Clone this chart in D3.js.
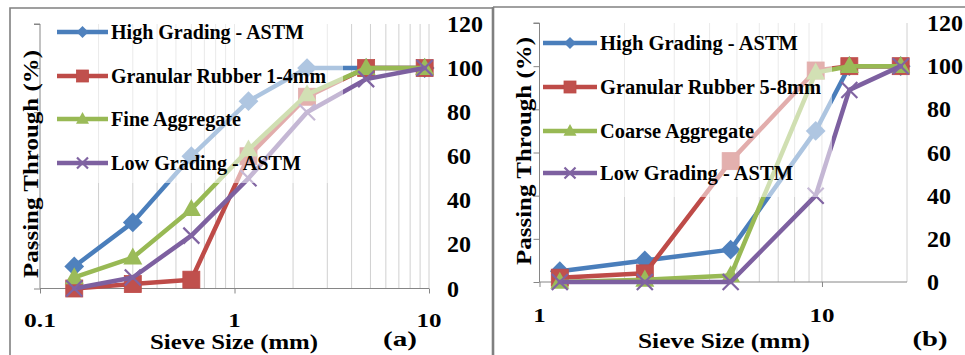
<!DOCTYPE html>
<html><head><meta charset="utf-8">
<script src="https://cdn.jsdelivr.net/npm/d3@7"></script>
<style>html,body{margin:0;padding:0;background:#fff;}svg{display:block;}</style>
</head><body>
<svg id="c" width="965" height="355"></svg>
<script>
// ---------- DATA ----------
const sievesA = [0.15, 0.3, 0.6, 1.18, 2.36, 4.75, 9.5];
const highA   = [10, 30, 60, 85, 100, 100, 100];
const rubberA = [0, 2, 4, 60, 87, 100, 100];
const fineA   = [5, 14, 36, 63, 88, 100, 100];
const lowA    = [0, 5, 24, 50, 80, 95, 100];
const namesA  = ["High Grading - ASTM", "Granular Rubber 1-4mm", "Fine Aggregate", "Low Grading - ASTM"];

const sievesB = [1.18, 2.36, 4.75, 9.5, 12.5, 19];
const highB   = [5, 10, 15, 70, 100, 100];
const rubberB = [2, 4, 56, 98, 100, 100];
const coarseB = [0, 1, 3, 97, 100, 100];
const lowB    = [0, 0, 0, 40, 89, 100];
const namesB  = ["High Grading - ASTM", "Granular Rubber 5-8mm", "Coarse Aggregate", "Low Grading - ASTM"];

const yTicks = [0, 20, 40, 60, 80, 100, 120];
const xTicksA = [0.1, 1, 10];
const xTicksB = [1, 10];
const xGridA = [0.2,0.3,0.4,0.5,0.6,0.7,0.8,0.9,1,2,3,4,5,6,7,8,9,10];
const xGridB = [2,3,4,5,6,7,8,9,10,20];
const yTitle = "Passing Through (%)";
const xTitle = "Sieve Size (mm)";

// ---------- STYLE ----------
const FONT = "'Liberation Serif', 'Times New Roman', serif";
const lineCols = ["#4A7EBB", "#BE4B48", "#98B954", "#7D60A0"];
const fillCols = ["#4F81BD", "#C0504D", "#9BBB59", "#8064A2"];
const markers = ["diamond", "square", "triangle", "x"];

const svg = d3.select("#c");

function txt(g) {
  return g.append("text").attr("font-family", FONT).attr("font-weight", "bold").attr("fill", "#000");
}
function stretch(sel, len) {
  sel.attr("textLength", len).attr("lengthAdjust", "spacingAndGlyphs");
}
function diamondPath(cx, cy, r) {
  return `M${cx},${cy-r}L${cx+r},${cy}L${cx},${cy+r}L${cx-r},${cy}Z`;
}
function drawMarker(g, i, cx, cy, s) {
  const type = markers[i];
  if (type === "diamond") {
    g.append("path").attr("d", diamondPath(cx, cy, s * 0.55)).attr("fill", fillCols[i]);
  } else if (type === "square") {
    g.append("rect").attr("x", cx - s/2).attr("y", cy - s/2).attr("width", s).attr("height", s)
     .attr("fill", fillCols[i]).attr("stroke", lineCols[i]).attr("stroke-width", 0.8);
  } else if (type === "triangle") {
    const h = s * 0.9;
    g.append("path").attr("d", `M${cx},${cy - h*0.6}L${cx + s/2},${cy + h*0.4}L${cx - s/2},${cy + h*0.4}Z`)
     .attr("fill", fillCols[i]);
  } else {
    const r = s/2;
    g.append("path").attr("d", `M${cx-r},${cy-r}L${cx+r},${cy+r}M${cx-r},${cy+r}L${cx+r},${cy-r}`)
     .attr("stroke", fillCols[i]).attr("stroke-width", 2.2).attr("fill", "none");
  }
}

function panel(cfg) {
  const g = svg.append("g");
  const x = d3.scaleLog().domain(cfg.xDomain).range(cfg.xRange);
  const y = d3.scaleLinear().domain([0, 120]).range(cfg.yRange);
  const [x0, x1] = cfg.xRange;
  const [yb, yt] = cfg.yRange;

  // vertical gridlines
  g.append("g").selectAll("line").data(cfg.grid).join("line")
    .attr("x1", d => x(d)).attr("x2", d => x(d)).attr("y1", yt).attr("y2", yb)
    .attr("stroke", "#d0d0d0").attr("stroke-width", 1);

  // y axis
  const yAx = g.append("g").attr("transform", `translate(${x0},0)`)
    .call(d3.axisLeft(y).tickValues(yTicks).tickSize(6).tickFormat(""));
  yAx.select(".domain").attr("stroke", "#868686").attr("d", `M-6,${y(120)}H0V${y(0)}`);
  yAx.selectAll(".tick line").attr("stroke", "#868686");

  // x axis
  const xAx = g.append("g").attr("transform", `translate(0,${yb})`)
    .call(d3.axisBottom(x).tickValues(cfg.xTicks).tickSize(5).tickFormat(""));
  xAx.select(".domain").attr("stroke", "#868686").attr("d", `M${x0},0H${x1}`);
  xAx.selectAll(".tick line").attr("stroke", "#868686");

  // series
  const line = d3.line().x(d => x(d[0])).y(d => y(d[1]));
  cfg.series.forEach((vals, i) => {
    const pts = cfg.sieves.map((s, k) => [s, vals[k]]);
    const sg = g.append("g");
    sg.append("path").datum(pts).attr("d", line).attr("fill", "none")
      .attr("stroke", lineCols[i]).attr("stroke-width", 4.5)
      .attr("stroke-linejoin", "round").attr("stroke-linecap", "round");
    const sizes = [18, 17, 19, 16];
    pts.forEach(p => drawMarker(sg, i, x(p[0]), y(p[1]), sizes[i]));
  });

  // legend fade box
  const lb = cfg.legendBox;
  g.append("rect").attr("x", lb[0]).attr("y", lb[1]).attr("width", lb[2]).attr("height", lb[3])
    .attr("fill", "#fff").attr("opacity", 0.55);

  // legend entries
  cfg.names.forEach((n, i) => {
    const ly = cfg.legendY[i];
    const lg = g.append("g");
    lg.append("line").attr("x1", cfg.legendX[0]).attr("x2", cfg.legendX[1]).attr("y1", ly).attr("y2", ly)
      .attr("stroke", lineCols[i]).attr("stroke-width", 4.5);
    const mx = (cfg.legendX[0] + cfg.legendX[1]) / 2;
    drawMarker(lg, i, mx, ly, [11, 12, 13, 11][i]);
    const t = txt(lg).attr("x", cfg.legendX[1] + 3).attr("y", ly).attr("dy", "0.35em")
      .attr("font-size", 20).text(n);
    stretch(t, cfg.legendW[i]);
  });

  // y tick labels (right side)
  yTicks.forEach(d => {
    const t = txt(g).attr("x", cfg.yLabX).attr("y", y(d)).attr("dy", "0.35em")
      .attr("font-size", 23).text(d);
    stretch(t, String(d).length * 12);
  });

  // x tick labels
  cfg.xTicks.forEach(d => {
    const s = String(d);
    const t = txt(g).attr("x", x(d)).attr("y", cfg.xLabY).attr("text-anchor", "middle")
      .attr("font-size", 18).text(s);
    stretch(t, s.replace(".", "").length * 12.5 + (s.includes(".") ? 7 : 0));
  });

  // axis titles
  const xt = txt(g).attr("x", cfg.xTitle[0]).attr("y", cfg.xTitle[1]).attr("text-anchor", "middle")
    .attr("font-size", 21).text(xTitle);
  stretch(xt, cfg.xTitle[2]);
  const yt2 = txt(g).attr("transform", `translate(${cfg.yTitle[0]},${cfg.yTitle[1]}) rotate(-90)`)
    .attr("text-anchor", "middle").attr("dy", "0.35em").attr("font-size", 21).text(yTitle);
  stretch(yt2, cfg.yTitle[2]);
  const pl = txt(g).attr("x", cfg.tag[0]).attr("y", cfg.tag[1]).attr("text-anchor", "middle")
    .attr("font-size", 21).text(cfg.tag[2]);
  stretch(pl, cfg.tag[3]);
}

panel({
  xDomain: [0.1, 10], xRange: [40, 429], yRange: [288.5, 24],
  grid: xGridA, xTicks: xTicksA, sieves: sievesA,
  series: [highA, rubberA, fineA, lowA], names: namesA,
  legendBox: [50, 14, 293, 169], legendX: [57, 108], legendY: [32, 76, 119, 163],
  legendW: [193, 215, 130, 190],
  yLabX: 447, xLabY: 327, xTitle: [234, 349, 168], yTitle: [31, 164, 228], tag: [400, 346, "(a)", 34]
});

panel({
  xDomain: [1, 20], xRange: [539.5, 907], yRange: [282, 23],
  grid: xGridB, xTicks: xTicksB, sieves: sievesB,
  series: [highB, rubberB, coarseB, lowB], names: namesB,
  legendBox: [541, 20, 291, 177], legendX: [543, 597], legendY: [43, 87, 131, 173],
  legendW: [198, 221, 154, 193],
  yLabX: 927, xLabY: 322, xTitle: [724, 348, 172], yTitle: [524, 151, 228], tag: [930, 346, "(b)", 35]
});

// figure frames
const fr = svg.append("g").attr("stroke", "#808080").attr("fill", "none");
fr.append("path").attr("d", "M10,355V8H493").attr("stroke-width", 1.6);
fr.append("path").attr("d", "M493,7H965").attr("stroke-width", 1.6);
fr.append("line").attr("x1", 493).attr("x2", 493).attr("y1", 7).attr("y2", 355).attr("stroke-width", 2.6);
</script>
</body></html>
